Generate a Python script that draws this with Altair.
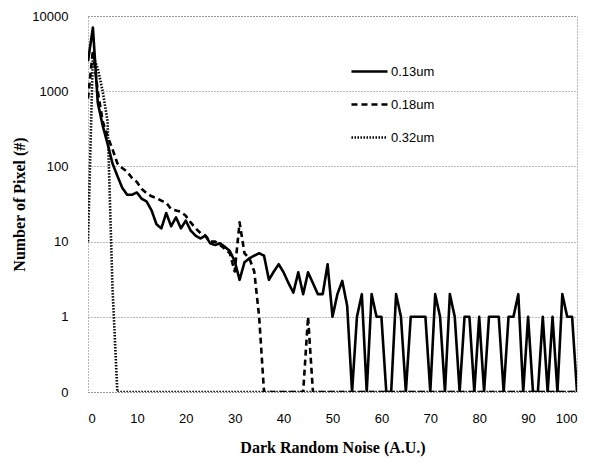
import altair as alt
import pandas as pd

noise = list(range(101))
series_names = ["0.13um", "0.18um", "0.32um"]

s013 = [2500, 7000, 700, 350, 200, 110, 75, 52, 42, 42,
        45, 37, 34, 26, 17, 15, 24, 16, 21, 15,
        19, 14, 12, 11, 12, 9.5, 9, 9.5, 8.5, 7.5,
        5.5, 3.1, 5.3, 6, 6.5, 7, 6.5, 3.1, 4, 5,
        3.9, 2.8, 2.1, 3.9, 2, 3.9, 2.8, 2, 2, 5,
        1, 2, 3, 1.4, 0, 1, 2, 0, 2, 1,
        1, 0, 0, 2, 1, 0, 1, 1, 1, 1,
        0, 2, 1, 0, 2, 1, 0, 1, 1, 0,
        1, 0, 1, 1, 1, 0, 1, 1, 2, 0,
        1, 0, 0, 1, 0, 1, 0, 2, 1, 1,
        0]

s018 = [800, 3500, 1000, 400, 250, 170, 110, 95, 85, 70,
        62, 50, 44, 40, 38, 35, 33, 27, 26, 25,
        22, 18, 15, 13, 12, 10, 10, 9, 8, 7,
        4, 18, 7, 6, 4, 1, 0, 0, 0, 0,
        0, 0, 0, 0, 0, 1] + [0] * 55

s032 = [10, 3000, 2000, 1000, 400, 2.5] + [0] * 95

rows = []
for name, vals in zip(series_names, [s013, s018, s032]):
    for xv, v in zip(noise, vals):
        rows.append({"noise": xv, "count": v if v > 0 else 0.1, "series": name})
df = pd.DataFrame(rows)

chart = alt.Chart(df).mark_line(color="black", strokeJoin="round", clip=True).encode(
    x=alt.X("noise:Q",
            scale=alt.Scale(domain=[0, 100], nice=False, zero=False),
            axis=alt.Axis(values=list(range(0, 101, 10)), title="Dark Random Noise (A.U.)",
                          grid=False, domain=False, ticks=False,
                          labelFont="Liberation Sans", labelFontSize=13, labelColor="black",
                          labelPadding=20,
                          titleFont="Liberation Serif", titleFontSize=16, titleFontWeight="bold",
                          titleColor="black", titlePadding=14)),
    y=alt.Y("count:Q",
            scale=alt.Scale(type="log", domain=[0.1, 10000], nice=False),
            axis=alt.Axis(values=[0.1, 1, 10, 100, 1000, 10000],
                          labelExpr="datum.value < 0.5 ? '0' : format(datum.value, 'd')",
                          title="Number of Pixel (#)",
                          grid=True, gridDash=[1, 2], gridColor="#777",
                          domain=False, ticks=False,
                          labelFont="Liberation Sans", labelFontSize=13, labelColor="black",
                          labelPadding=20,
                          titleFont="Liberation Serif", titleFontSize=16, titleFontWeight="bold",
                          titleColor="black", titlePadding=4)),
    strokeDash=alt.StrokeDash("series:N",
                              scale=alt.Scale(domain=series_names,
                                              range=[[1, 0], [6, 4], [1.5, 1.5]]),
                              legend=alt.Legend(title=None, orient="none", legendX=262, legendY=36,
                                                symbolType="stroke", symbolSize=1300,
                                                symbolStrokeWidth=2, symbolStrokeColor="black",
                                                labelFont="Liberation Sans", labelFontSize=13,
                                                labelColor="black", labelOffset=2,
                                                rowPadding=6)),
    strokeWidth=alt.StrokeWidth("series:N",
                                scale=alt.Scale(domain=series_names, range=[2.6, 2.6, 1.3]),
                                legend=None),
).properties(
    width=489, height=376,
    autosize=alt.AutoSizeParams(type="none"),
    padding={"left": 80, "top": 8, "right": 15, "bottom": 70},
).configure_view(
    stroke="#777", strokeDash=[1, 2], strokeWidth=1
)

chart.save("out.html", embed_options={"renderer": "svg", "actions": False})
